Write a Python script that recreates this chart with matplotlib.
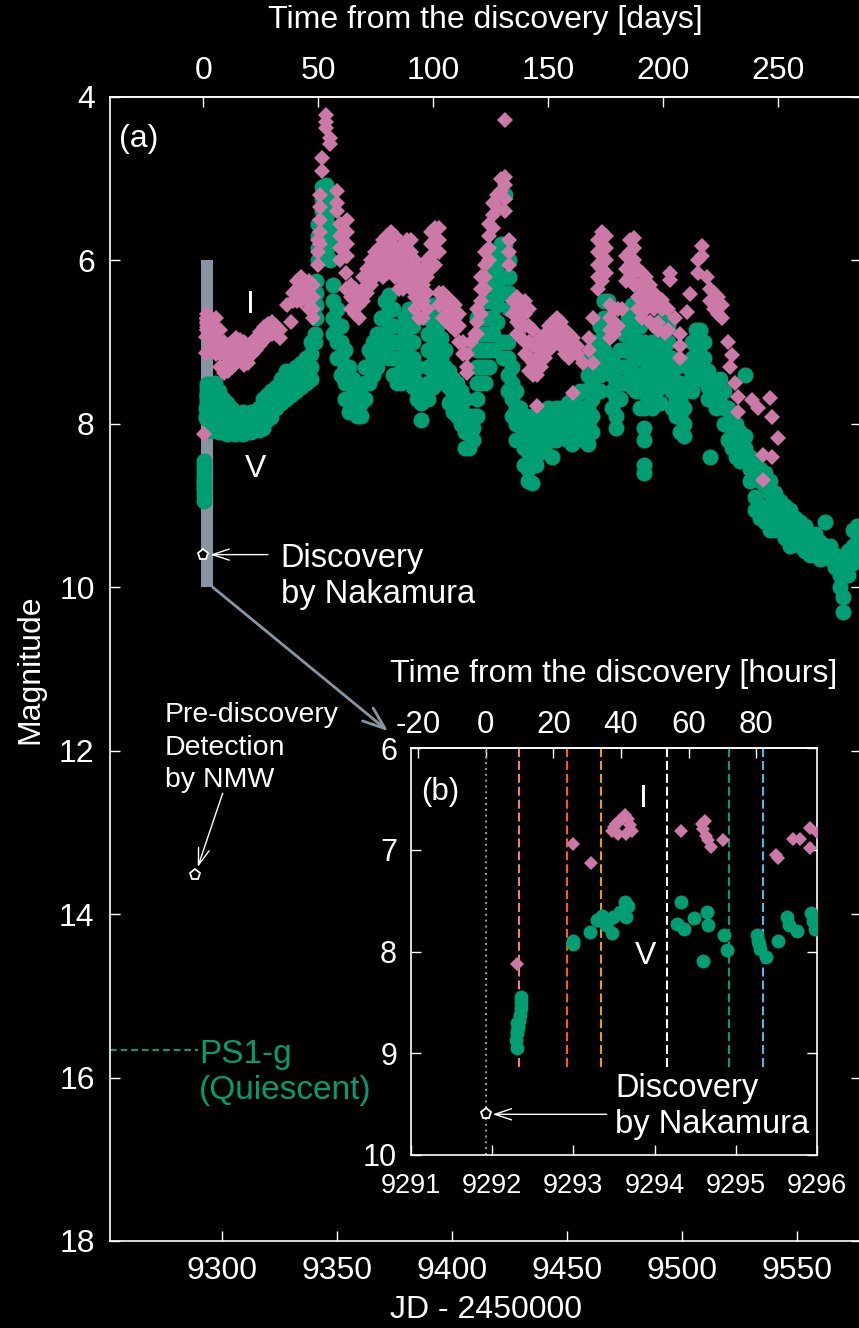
import numpy as np
import matplotlib.pyplot as plt
from matplotlib.patches import Rectangle

plt.rcParams['font.family'] = ['Liberation Sans', 'DejaVu Sans']
plt.rcParams['axes.unicode_minus'] = False

W, H = 859, 1328

green = '#009e73'
pink = '#cc79a7'
slate = '#8795a3'

t_disc = 9291.92        # discovery epoch (JD - 2450000)
disc_mag = 9.6
nmw_jd, nmw_mag = 9288.3, 13.52
ps1_g = 15.66

# first nights, V band
v_night_jd = [9292.30, 9292.29, 9292.31, 9292.32, 9292.33, 9292.34, 9292.35, 9292.36, 9292.36,
              9292.30, 9292.31, 9292.99, 9293.00, 9293.20, 9293.29, 9293.35, 9293.40, 9293.47,
              9293.49, 9293.57, 9293.64, 9293.65, 9293.67, 9294.33, 9294.28, 9294.36, 9294.48,
              9294.64, 9294.66, 9294.85, 9294.89, 9294.60, 9295.26, 9295.28, 9295.30, 9295.27,
              9295.37, 9295.52, 9295.63, 9295.65, 9295.75, 9295.92, 9295.95, 9295.97]
v_night_mag = [8.95, 8.87, 8.80, 8.74, 8.68, 8.62, 8.56, 8.50, 8.45,
               8.78, 8.70, 7.90, 7.93, 7.81, 7.69, 7.65, 7.74, 7.82,
               7.66, 7.61, 7.51, 7.66, 7.55, 7.51, 7.73, 7.78, 7.67,
               7.61, 7.74, 7.84, 7.99, 8.09, 7.84, 7.93, 7.98, 7.90,
               8.05, 7.90, 7.66, 7.74, 7.80, 7.62, 7.70, 7.78]

# first nights, I band
i_night_jd = [9292.31, 9292.99, 9293.22, 9293.47, 9293.50, 9293.53, 9293.56, 9293.60, 9293.64,
              9293.67, 9293.70, 9293.72, 9293.55, 9293.65, 9294.33, 9294.58, 9294.60, 9294.62,
              9294.63, 9294.66, 9294.70, 9294.84, 9295.52, 9295.50, 9295.70, 9295.79, 9295.91,
              9295.91, 9296.01]
i_night_mag = [8.12, 6.94, 7.13, 6.82, 6.78, 6.75, 6.72, 6.70, 6.66,
               6.70, 6.76, 6.82, 6.85, 6.85, 6.82, 6.75, 6.80, 6.72,
               6.86, 6.90, 6.97, 6.90, 7.08, 7.05, 6.89, 6.89, 6.79,
               6.98, 6.84]

# later nights, V band: (JD, magnitudes of that night)
v_nights = [
    (9297.0, [7.50, 7.70, 7.90, 8.05]), (9298.7, [7.60, 7.80, 8.00, 8.10]),
    (9300.4, [7.70, 7.90, 8.10]), (9302.2, [7.75, 7.95, 8.12]),
    (9303.9, [7.80, 7.95, 8.10]), (9305.7, [7.85, 8.00, 8.12]),
    (9307.4, [7.90, 8.05, 8.10]), (9309.1, [7.85, 8.00, 8.12]),
    (9310.9, [7.90, 8.05]), (9312.6, [7.85, 8.00, 8.10]),
    (9314.3, [7.90, 8.05]), (9316.1, [7.80, 7.95, 8.08]),
    (9317.8, [7.70, 7.90, 8.05]), (9319.6, [7.65, 7.85, 7.95]),
    (9321.3, [7.60, 7.80, 7.92]), (9323.5, [7.55, 7.70, 7.80]),
    (9325.7, [7.45, 7.60, 7.75]), (9327.8, [7.35, 7.50, 7.70]),
    (9330.0, [7.35, 7.50, 7.65]), (9332.2, [7.30, 7.45, 7.60]),
    (9334.3, [7.25, 7.40, 7.55]), (9336.5, [7.20, 7.35, 7.50]),
    (9338.7, [7.00, 7.15, 7.30, 7.45]), (9340.4, [6.90, 7.00]),
    (9341.0, [6.25, 6.40, 6.55, 6.70]), (9341.7, [5.55, 5.70, 5.85, 6.00]),
    (9343.5, [5.10, 5.25, 5.40, 5.55, 5.70]), (9345.2, [5.08, 5.20, 5.35, 5.50, 5.70, 5.90]),
    (9347.0, [5.20, 5.40, 5.60, 5.80, 6.00]), (9348.3, [6.30, 6.50, 6.70, 6.90]),
    (9350.0, [6.60, 6.80, 7.00, 7.20]), (9351.7, [6.80, 7.00, 7.20, 7.40]),
    (9353.5, [7.10, 7.30, 7.50, 7.70]), (9355.2, [7.30, 7.50, 7.70, 7.85]),
    (9357.0, [7.45, 7.65, 7.85]), (9358.7, [7.50, 7.70, 7.90]),
    (9360.4, [7.55, 7.75, 7.90]), (9362.2, [7.30, 7.50, 7.70]),
    (9363.9, [7.10, 7.30, 7.50]), (9365.7, [7.00, 7.20, 7.40]),
    (9367.4, [6.90, 7.10, 7.30]), (9369.1, [6.70, 6.90, 7.10]),
    (9370.9, [6.50, 6.70, 6.90, 7.10]), (9372.6, [6.42, 6.60, 6.80, 7.00, 7.20]),
    (9374.3, [6.60, 6.80, 7.00, 7.20, 7.40]), (9376.1, [7.00, 7.20, 7.40, 7.50]),
    (9377.8, [7.20, 7.35, 7.50]), (9379.6, [6.70, 6.90, 7.10, 7.30, 7.45]),
    (9381.3, [6.60, 6.80, 7.00, 7.20, 7.40]), (9383.0, [6.80, 7.00, 7.20, 7.40, 7.55]),
    (9384.8, [7.30, 7.50, 7.70]), (9386.5, [7.60, 7.75, 7.95]),
    (9389.6, [6.70, 6.90, 7.10, 7.30, 7.50, 7.70]), (9391.7, [6.55, 6.75, 6.95, 7.15, 7.35, 7.55]),
    (9393.5, [6.55, 6.80, 7.00, 7.20, 7.40]), (9395.2, [6.70, 6.95, 7.20, 7.40]),
    (9397.0, [7.10, 7.30, 7.50]), (9398.7, [7.35, 7.55, 7.75]),
    (9400.4, [7.45, 7.65, 7.85]), (9402.2, [7.50, 7.70, 7.90]),
    (9403.9, [7.60, 7.80, 8.00]), (9405.7, [7.70, 7.90, 8.10, 8.30]),
    (9407.4, [7.90, 8.10, 8.30]), (9409.1, [7.90, 8.05, 8.20]),
    (9410.9, [6.70, 6.90, 7.10, 7.30, 7.50, 7.70, 7.90]), (9412.6, [6.70, 6.90, 7.10, 7.30, 7.50]),
    (9414.3, [6.50, 6.70, 6.90, 7.10, 7.30, 7.50]), (9416.1, [6.30, 6.50, 6.70, 6.90, 7.10, 7.30]),
    (9417.8, [6.10, 6.30, 6.50, 6.70, 6.90, 7.10]), (9419.6, [5.95, 6.15, 6.35, 6.55, 6.75]),
    (9421.3, [5.80, 6.00, 6.20]), (9422.2, [7.00, 7.20]),
    (9423.0, [5.20, 5.80, 6.00, 6.20, 6.40]), (9424.3, [7.00, 7.20, 7.40, 7.60]),
    (9424.8, [6.00, 6.20, 6.40, 6.60]), (9426.1, [7.30, 7.50, 7.70, 7.90]),
    (9427.8, [7.60, 7.80, 8.00, 8.20]), (9429.6, [7.80, 8.00, 8.20]),
    (9431.3, [7.90, 8.10, 8.30, 8.50]), (9433.0, [7.95, 8.15, 8.35, 8.55, 8.70]),
    (9434.8, [7.90, 8.10, 8.30, 8.50, 8.72]), (9436.5, [7.90, 8.10, 8.30, 8.50]),
    (9438.3, [7.90, 8.05, 8.20, 8.35]), (9440.0, [7.85, 8.00, 8.15, 8.30]),
    (9441.7, [7.80, 8.00, 8.15]), (9443.5, [7.85, 8.05, 8.20, 8.40]),
    (9445.2, [7.80, 8.00, 8.20]), (9447.0, [7.80, 7.95, 8.10]),
    (9448.7, [7.80, 7.95, 8.10]), (9450.4, [7.75, 7.90, 8.05, 8.20]),
    (9452.2, [7.70, 7.90, 8.10, 8.25]), (9453.9, [7.65, 7.85, 8.05]),
    (9455.7, [7.60, 7.80, 8.00]), (9457.4, [7.60, 7.80, 8.00, 8.20]),
    (9459.1, [7.20, 7.40, 7.60, 7.80, 8.00, 8.25]), (9460.9, [7.10, 7.30, 7.50, 7.70, 7.90, 8.10]),
    (9462.6, [7.00, 7.20, 7.40, 7.60]), (9464.3, [6.80, 7.00, 7.20, 7.40, 7.60]),
    (9466.1, [6.50, 6.70, 6.90, 7.10, 7.30]), (9467.8, [6.50, 6.70, 6.90]),
    (9469.6, [7.20, 7.40, 7.60, 7.80]), (9471.3, [7.30, 7.50, 7.70, 7.90, 8.05]),
    (9473.0, [7.10, 7.30, 7.50, 7.70]), (9474.8, [6.90, 7.10, 7.30, 7.50]),
    (9476.5, [6.70, 6.90, 7.10, 7.30, 7.50]), (9478.3, [6.55, 6.75, 6.95, 7.15, 7.35, 7.55]),
    (9480.0, [6.60, 6.80, 7.00, 7.20, 7.40, 7.60]), (9481.7, [6.80, 7.00, 7.20, 7.40, 7.60, 7.80]),
    (9483.5, [7.00, 7.20, 7.40, 7.60, 7.80, 8.05, 8.20, 8.50, 8.60]), (9485.2, [7.10, 7.30, 7.50, 7.70]),
    (9487.0, [7.00, 7.20, 7.40, 7.60, 7.80]), (9488.7, [6.80, 7.00, 7.20, 7.40, 7.60]),
    (9490.4, [6.75, 6.95, 7.15, 7.35, 7.55, 7.75]), (9492.2, [6.70, 6.90, 7.10, 7.30, 7.50]),
    (9493.9, [6.80, 7.00, 7.20, 7.40]), (9495.7, [7.20, 7.40, 7.60, 7.80]),
    (9497.4, [7.30, 7.50, 7.70, 7.90]), (9499.1, [7.50, 7.70, 7.90, 8.10]),
    (9500.9, [7.60, 7.80, 8.00, 8.15]), (9502.6, [7.30, 7.50]),
    (9504.3, [7.00, 7.20, 7.40, 7.60]), (9506.1, [6.85, 7.05, 7.25, 7.45]),
    (9507.8, [6.85, 7.05, 7.25, 7.45]), (9509.6, [7.00, 7.20, 7.40]),
    (9511.3, [7.35, 7.55, 7.70]), (9512.2, [8.40]),
    (9513.0, [7.45, 7.60]), (9514.8, [7.50, 7.65, 7.80]),
    (9516.5, [7.45, 7.60, 7.75]), (9518.3, [7.60, 7.80, 8.00]),
    (9520.0, [7.80, 8.00, 8.20]), (9521.7, [7.90, 8.10, 8.30]),
    (9523.5, [8.00, 8.20, 8.40]), (9525.2, [8.10, 8.30, 8.45]),
    (9527.4, [7.40, 8.15, 8.30, 8.45]), (9529.6, [8.40, 8.55, 8.70]),
    (9531.7, [8.50, 8.65, 8.90, 9.05]), (9533.9, [8.55, 8.70, 9.00, 9.15]),
    (9536.1, [8.60, 8.75, 9.05, 9.20]), (9538.3, [8.70, 8.85, 9.00, 9.15, 9.30]),
    (9540.4, [8.85, 9.00, 9.15, 9.30]), (9542.6, [8.95, 9.10, 9.25]),
    (9544.8, [9.00, 9.15, 9.30, 9.40]), (9547.0, [9.05, 9.20, 9.35, 9.50]),
    (9549.1, [9.15, 9.30, 9.45]), (9551.3, [9.20, 9.35, 9.50]),
    (9553.5, [9.25, 9.40, 9.55]), (9555.7, [9.35, 9.50, 9.60]),
    (9557.8, [9.35, 9.50, 9.60]), (9560.0, [9.45, 9.55, 9.65]),
    (9562.2, [9.20, 9.50, 9.60]), (9564.3, [9.50, 9.65]),
    (9566.5, [9.60, 9.75]), (9568.7, [9.70, 9.85, 10.00]),
    (9570.0, [10.12, 10.30]), (9572.2, [9.55, 9.70, 9.85]),
    (9574.3, [9.30, 9.50, 9.70]), (9576.1, [9.25, 9.45, 9.60]),
]

# later nights, I band
i_nights = [
    (9297.4, [6.70, 6.85, 7.00, 7.15]), (9299.1, [6.85, 7.00, 7.15, 7.30]),
    (9300.9, [7.00, 7.15, 7.30, 7.38]), (9302.6, [7.05, 7.20, 7.35]),
    (9304.3, [7.00, 7.15, 7.30]), (9306.1, [6.95, 7.10, 7.25]),
    (9307.8, [6.97, 7.10, 7.20]), (9309.6, [7.00, 7.15, 7.28]),
    (9311.3, [7.05, 7.20, 7.25]), (9313.0, [7.00, 7.15]),
    (9314.8, [6.95, 7.10]), (9316.5, [6.88, 7.03]),
    (9318.3, [6.82, 6.97]), (9320.0, [6.78, 6.92]),
    (9321.7, [6.75, 6.90]), (9323.5, [6.80, 6.90]),
    (9325.2, [6.85, 6.95]), (9328.3, [6.55]),
    (9330.0, [6.75]), (9330.9, [6.40, 6.50]),
    (9332.6, [6.25, 6.35, 6.45, 6.50]), (9334.3, [6.20, 6.30, 6.40, 6.50]),
    (9336.1, [6.25, 6.35, 6.45]), (9337.8, [6.25, 6.35, 6.50, 6.60]),
    (9339.6, [6.30, 6.45, 6.60, 6.70]), (9341.7, [5.75, 5.90, 6.05]),
    (9342.6, [5.20, 5.35, 5.50, 5.65, 5.80]), (9343.5, [4.75, 4.90]),
    (9345.2, [4.22, 4.30, 4.38]), (9347.0, [4.50, 4.58]),
    (9350.0, [5.15, 5.30, 5.40]), (9351.3, [5.55, 5.70, 5.85, 6.00]),
    (9353.9, [5.95, 6.15, 6.35]), (9354.3, [5.50, 5.65, 5.80, 5.95]),
    (9356.1, [6.30, 6.45, 6.60]), (9357.8, [6.35, 6.50, 6.65]),
    (9359.6, [6.40, 6.55, 6.70]), (9361.3, [6.20, 6.35, 6.50]),
    (9363.0, [6.10, 6.25, 6.40]), (9364.8, [6.00, 6.15, 6.30]),
    (9366.5, [5.90, 6.05, 6.20]), (9368.3, [5.85, 6.00, 6.15]),
    (9370.0, [5.75, 5.90, 6.05, 6.20]), (9371.7, [5.70, 5.85, 6.00, 6.15]),
    (9373.5, [5.65, 5.80, 5.95, 6.10]), (9375.2, [5.70, 5.85, 6.00, 6.20]),
    (9377.0, [5.90, 6.05, 6.20, 6.35]), (9378.7, [5.80, 5.95, 6.10, 6.25, 6.35]),
    (9380.4, [5.75, 5.90, 6.05, 6.20]), (9382.2, [5.75, 5.90, 6.05, 6.20, 6.35]),
    (9383.9, [6.00, 6.15, 6.30, 6.45, 6.60]), (9385.7, [6.10, 6.25, 6.40, 6.55, 6.70]),
    (9387.4, [6.10, 6.30, 6.50, 6.70]), (9389.1, [6.00, 6.20, 6.40, 6.60]),
    (9390.9, [5.65, 5.80, 5.95, 6.10]), (9392.6, [5.60, 5.75, 5.90, 6.05]),
    (9394.3, [5.60, 5.75, 5.90, 6.40, 6.55]), (9396.1, [6.40, 6.55, 6.70]),
    (9397.8, [6.45, 6.60, 6.75]), (9399.6, [6.50, 6.65, 6.80]),
    (9401.3, [6.55, 6.70, 6.85]), (9403.0, [6.65, 6.80, 7.00]),
    (9404.8, [7.00, 7.15]), (9406.5, [7.15, 7.30, 7.38]),
    (9408.3, [7.00]), (9410.0, [6.90]),
    (9410.9, [6.60, 6.75, 6.90]), (9412.6, [6.20, 6.35, 6.50, 6.65]),
    (9414.3, [5.90, 6.05, 6.20, 6.35]), (9416.1, [5.55, 5.70, 5.85, 6.00]),
    (9417.8, [5.30, 5.45, 5.60]), (9419.6, [5.20, 5.35]),
    (9421.3, [5.00, 5.15]), (9423.0, [4.28, 4.98, 5.08, 5.25, 5.40]),
    (9424.8, [5.75, 5.90, 6.05]), (9426.5, [6.50, 6.65]),
    (9428.3, [6.45, 6.60, 6.75, 6.90]), (9430.0, [6.50, 6.65, 6.80, 6.95]),
    (9431.7, [6.50, 6.65, 6.80, 7.00, 7.15]), (9433.5, [6.60, 6.80, 7.00, 7.20, 7.35]),
    (9435.2, [6.85, 7.05, 7.25, 7.40]), (9437.0, [7.00, 7.20, 7.40, 7.78]),
    (9438.7, [6.95, 7.10, 7.30]), (9440.4, [6.90, 7.05, 7.20]),
    (9442.2, [6.80, 6.95, 7.10]), (9443.9, [6.75, 6.90, 7.05]),
    (9445.7, [6.70, 6.85, 7.00]), (9447.4, [6.75, 6.90, 7.05]),
    (9449.1, [6.85, 7.00, 7.15]), (9450.9, [6.90, 7.05, 7.20]),
    (9452.6, [6.95, 7.10, 7.62]), (9454.3, [7.05, 7.15]),
    (9457.0, [7.25]), (9459.6, [6.95, 7.10]),
    (9461.3, [6.70, 7.25]), (9463.5, [5.75, 5.90, 6.05, 6.20, 6.35]),
    (9465.2, [5.65, 5.80, 5.95, 6.10, 6.25]), (9467.0, [5.70, 5.85, 6.00, 6.15]),
    (9468.7, [6.55, 6.70, 6.85, 6.95]), (9470.4, [6.60, 6.75, 6.90]),
    (9472.2, [6.60, 6.80]), (9473.9, [6.60]),
    (9475.7, [5.95, 6.10, 6.25]), (9477.4, [5.75, 5.90, 6.05, 6.20]),
    (9479.1, [5.72, 5.85, 6.00, 6.15, 6.30]), (9480.9, [6.10, 6.30, 6.45, 6.60]),
    (9482.6, [6.15, 6.30, 6.50, 6.70]), (9484.3, [6.20, 6.40, 6.60]),
    (9486.1, [6.30, 6.50, 6.75]), (9487.8, [6.40, 6.60, 6.80]),
    (9489.6, [6.50, 6.77, 6.85]), (9491.3, [6.48, 6.60]),
    (9492.6, [6.89]), (9493.9, [6.60, 6.85]),
    (9494.8, [6.15, 6.24]), (9497.0, [6.70]),
    (9499.1, [6.90, 7.05, 7.20]), (9502.2, [6.63]),
    (9503.5, [6.41]), (9507.0, [6.00, 6.15]),
    (9508.7, [5.82, 5.95]), (9510.9, [6.20]),
    (9512.2, [6.35, 6.50]), (9513.9, [6.40, 6.60]),
    (9515.7, [6.45, 6.65]), (9517.4, [6.55, 6.70]),
    (9520.0, [7.00]), (9520.9, [7.30]),
    (9521.7, [7.16]), (9523.0, [7.50]),
    (9524.3, [7.67, 7.86]), (9530.4, [7.71]),
    (9533.0, [7.81]), (9535.2, [8.38, 8.69]),
    (9538.3, [7.68]), (9539.1, [7.92, 8.40]),
    (9541.7, [8.17]),
]

# epochs of the spectra marked in the inset
spec_jd = [9292.334, 9292.917, 9293.340, 9294.157, 9294.916, 9295.339]
spec_colors = ['#f07f7f', '#ff5a14', '#e69f00', 'white', '#009e73', '#56b4e9']


def unpack(nights):
    jd, mag = [], []
    for t, ms in nights:
        jd += [t] * len(ms)
        mag += ms
    return jd, mag


vj, vm = unpack(v_nights)
ij, im = unpack(i_nights)
v_jd = np.array(v_night_jd + vj)
v_mag = np.array(v_night_mag + vm)
i_jd = np.array(i_night_jd + ij)
i_mag = np.array(i_night_mag + im)


def box(left, top, right, bottom):
    # axes rectangle from pixel edges
    return [left / W, 1 - bottom / H, (right - left) / W, (bottom - top) / H]


def ftext(x, y, s, **kw):
    # text anchored at a pixel position (y = baseline)
    kw.setdefault('color', 'white')
    kw.setdefault('va', 'baseline')
    fig.text(x / W, 1 - y / H, s, **kw)


def dress(a, size):
    a.set_facecolor('black')
    for sp in a.spines.values():
        sp.set_color('white')
        sp.set_linewidth(1.2)
    a.tick_params(direction='in', colors='white', length=7, width=1, labelsize=size)


fig = plt.figure(figsize=(W / 100, H / 100), dpi=100, facecolor='black')

# ---- main light curve ----
ax = fig.add_axes(box(110, 97, 861, 1241))
dress(ax, 23)
ax.set_xlim(9251.3, 9577.8)
ax.set_ylim(18, 4)
ax.set_xticks([9300, 9350, 9400, 9450, 9500, 9550])
ax.set_yticks(range(4, 19, 2))
ax.tick_params(axis='x', top=False, pad=11)
ax.tick_params(axis='y', right=True, pad=11)
ax.set_xlabel('JD - 2450000', fontsize=23, color='white', labelpad=6)
ax.set_ylabel('Magnitude', fontsize=23, color='white', labelpad=10)

top = ax.secondary_xaxis('top', functions=(lambda x: x - t_disc, lambda d: d + t_disc))
top.set_xticks(range(0, 300, 50))
top.tick_params(direction='in', colors='white', length=7, width=1, labelsize=23, pad=8)
top.spines['top'].set_color('white')
top.spines['top'].set_linewidth(1.2)
top.set_xlabel('Time from the discovery [days]', fontsize=23, color='white', labelpad=20)

ax.add_patch(Rectangle((9291, 6), 5, 4, color=slate, lw=0, zorder=1))
ax.plot(v_jd, v_mag, 'o', ms=11.5, mew=0, color=green, zorder=3)
ax.plot(i_jd, i_mag, 'D', ms=8.2, mew=0, color=pink, zorder=4)

ax.plot(t_disc, disc_mag, 'p', ms=8, mfc='black', mec='white', mew=1.3, zorder=6)
ax.plot(nmw_jd, nmw_mag, 'p', ms=8, mfc='black', mec='white', mew=1.3, zorder=6)
ax.plot([9251.3, 9289.6], [ps1_g, ps1_g], ls=(0, (3.2, 1.9)), lw=1.5, color=green)

head = '->,head_length=0.6,head_width=0.2'
ax.annotate('', xy=(t_disc, disc_mag), xytext=(9320.0, disc_mag),
            arrowprops=dict(arrowstyle=head, color='white', lw=1, shrinkA=0, shrinkB=5,
                            mutation_scale=20))
ax.annotate('', xy=(nmw_jd, nmw_mag), xytext=(9300.3, 12.52),
            arrowprops=dict(arrowstyle=head, color='white', lw=1, shrinkA=0, shrinkB=6,
                            mutation_scale=20))
# zoom-in pointer from the shaded window to the inset
ax.annotate('', xy=(9372.2, 11.76), xytext=(9296, 10),
            arrowprops=dict(arrowstyle='->,head_length=0.8,head_width=0.3', color=slate,
                            lw=2, shrinkA=0, shrinkB=0, mutation_scale=20))

ftext(119, 147, '(a)', fontsize=23)
ftext(250, 313, 'I', fontsize=23, ha='center')
ftext(256, 477, 'V', fontsize=23, ha='center')
ftext(280, 567, 'Discovery', fontsize=23.5)
ftext(281, 603, 'by Nakamura', fontsize=23.5)
ftext(165, 722, 'Pre-discovery', fontsize=20.5)
ftext(165, 755, 'Detection', fontsize=20.5)
ftext(165, 787, 'by NMW', fontsize=20.5)
ftext(199, 1063, 'PS1-g', fontsize=24, color=green)
ftext(199, 1099, '(Quiescent)', fontsize=24, color=green)

# ---- inset: first four days ----
axin = fig.add_axes(box(411, 748, 817, 1155))
dress(axin, 22)
axin.set_xlim(9291, 9296)
axin.set_ylim(10, 6)
axin.set_xticks(range(9291, 9297))
axin.set_yticks(range(6, 11))
axin.tick_params(axis='x', top=False, labelsize=19.5, pad=13)
axin.tick_params(axis='y', right=True, pad=10)

hrs = axin.secondary_xaxis('top', functions=(lambda x: (x - t_disc) * 24,
                                             lambda h: h / 24 + t_disc))
hrs.set_xticks(range(-20, 100, 20))
hrs.tick_params(direction='in', colors='white', length=7, width=1, labelsize=22.5, pad=6)
hrs.spines['top'].set_color('white')
hrs.spines['top'].set_linewidth(1.2)
hrs.set_xlabel('Time from the discovery [hours]', fontsize=23, color='white', labelpad=20)

axin.axvline(t_disc, color=slate, ls=(0, (1, 1.8)), lw=1.5, zorder=1)
for t, c in zip(spec_jd, spec_colors):
    axin.vlines(t, 6, 9.17, color=c, ls=(0, (4.3, 1.9)), lw=1.5, zorder=1)

axin.plot(v_jd, v_mag, 'o', ms=10, mew=0, color=green, zorder=3)
axin.plot(i_jd, i_mag, 'D', ms=7.5, mew=0, color=pink, zorder=4)
axin.plot(t_disc, disc_mag, 'p', ms=8, mfc='black', mec='white', mew=1.3, zorder=6)
axin.annotate('', xy=(t_disc, disc_mag), xytext=(9293.41, disc_mag),
              arrowprops=dict(arrowstyle=head, color='white', lw=1, shrinkA=0, shrinkB=5,
                              mutation_scale=20))

ftext(421, 800, '(b)', fontsize=22.5)
ftext(643.5, 807, 'I', fontsize=23, ha='center')
ftext(646, 964, 'V', fontsize=23, ha='center')
ftext(615, 1097, 'Discovery', fontsize=23.5)
ftext(615, 1133, 'by Nakamura', fontsize=23.5)

fig.savefig('out.png', dpi=100, facecolor='black')
